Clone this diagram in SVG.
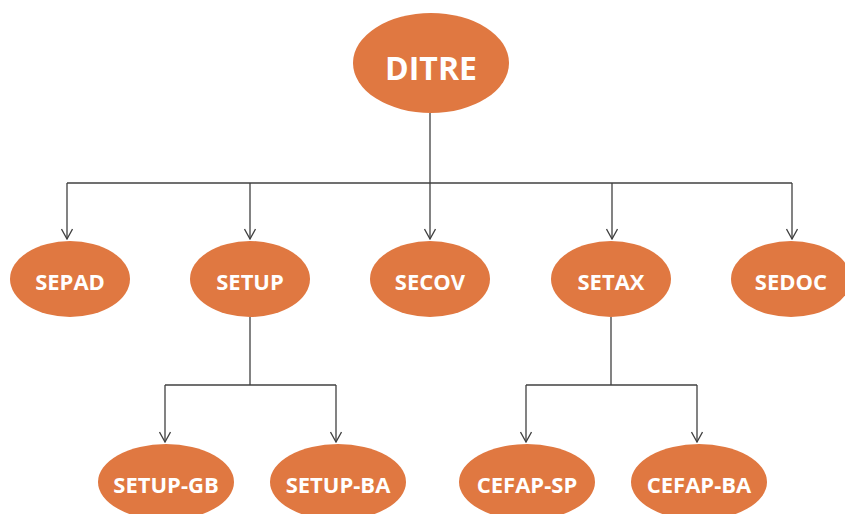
<svg xmlns="http://www.w3.org/2000/svg" width="845" height="514" viewBox="0 0 845 514">
  <style>
    .node ellipse { fill: #E07841; }
    .node text { fill: #FFFFFF; font-family: "Open Sans", Lato, "Liberation Sans", sans-serif; font-weight: bold; font-size: 22px; text-anchor: middle; }
    .node.root text { font-size: 32px; }
    .edges path { fill: none; stroke: #404040; stroke-width: 1.3; }
  </style>
  <defs>
    <marker id="arrow" viewBox="0 0 12 12" refX="11" refY="6" markerWidth="12" markerHeight="12" markerUnits="userSpaceOnUse" orient="auto">
      <path d="M1,0.5 L11,6 L1,11.5" fill="none" stroke="#404040" stroke-width="1.3"/>
    </marker>
  </defs>

  <rect width="845" height="514" fill="#FFFFFF"/>

  <!-- connectors -->
  <g class="edges">
    <path d="M430,113 V183"/>
    <path d="M67,183 H792"/>
    <path d="M67,183 V239" marker-end="url(#arrow)"/>
    <path d="M250,183 V239" marker-end="url(#arrow)"/>
    <path d="M430,183 V239" marker-end="url(#arrow)"/>
    <path d="M612,183 V239" marker-end="url(#arrow)"/>
    <path d="M792,183 V239" marker-end="url(#arrow)"/>

    <path d="M250,317 V385"/>
    <path d="M165,385 H336"/>
    <path d="M165,385 V442" marker-end="url(#arrow)"/>
    <path d="M336,385 V442" marker-end="url(#arrow)"/>

    <path d="M611,317 V385"/>
    <path d="M526,385 H697"/>
    <path d="M526,385 V442" marker-end="url(#arrow)"/>
    <path d="M697,385 V442" marker-end="url(#arrow)"/>
  </g>

  <!-- nodes -->
  <g id="ditre" class="node root">
    <ellipse cx="431" cy="63" rx="78" ry="50"/>
    <text x="431" y="80">DITRE</text>
  </g>
  <g id="sepad" class="node">
    <ellipse cx="70" cy="279" rx="60" ry="38"/>
    <text x="70" y="290">SEPAD</text>
  </g>
  <g id="setup" class="node">
    <ellipse cx="250" cy="279" rx="60" ry="38"/>
    <text x="250" y="290">SETUP</text>
  </g>
  <g id="secov" class="node">
    <ellipse cx="430" cy="279" rx="60" ry="38"/>
    <text x="430" y="290">SECOV</text>
  </g>
  <g id="setax" class="node">
    <ellipse cx="611" cy="279" rx="60" ry="38"/>
    <text x="611" y="290">SETAX</text>
  </g>
  <g id="sedoc" class="node">
    <ellipse cx="791" cy="279" rx="60" ry="38"/>
    <text x="791" y="290">SEDOC</text>
  </g>
  <g id="setup-gb" class="node">
    <ellipse cx="166" cy="482" rx="68" ry="38"/>
    <text x="166" y="493">SETUP-GB</text>
  </g>
  <g id="setup-ba" class="node">
    <ellipse cx="338" cy="482" rx="68" ry="38"/>
    <text x="338" y="493">SETUP-BA</text>
  </g>
  <g id="cefap-sp" class="node">
    <ellipse cx="527" cy="482" rx="68" ry="38"/>
    <text x="527" y="493">CEFAP-SP</text>
  </g>
  <g id="cefap-ba" class="node">
    <ellipse cx="699" cy="482" rx="68" ry="38"/>
    <text x="699" y="493">CEFAP-BA</text>
  </g>
</svg>
